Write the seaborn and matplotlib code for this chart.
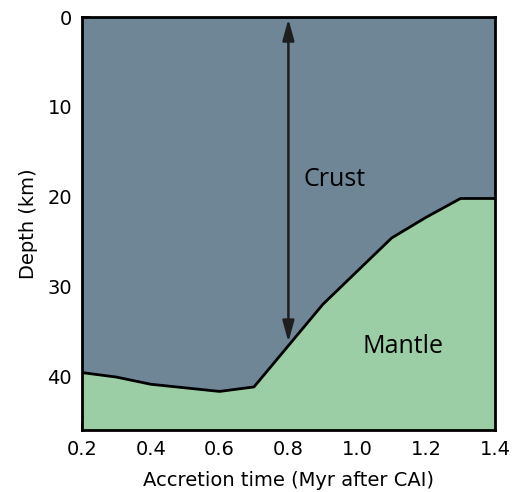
import numpy as np
import pandas as pd
import matplotlib
matplotlib.use("Agg")
import matplotlib.pyplot as plt
import seaborn as sns

# accretion time (Myr after CAI) and crust/mantle boundary depth (km)
accretion_time = [0.2, 0.3, 0.4, 0.5, 0.6, 0.7, 0.8, 0.9, 1.0, 1.1, 1.2, 1.3, 1.4]
boundary_depth = [39.6, 40.1, 40.9, 41.3, 41.7, 41.2, 36.6, 32.0, 28.3, 24.6, 22.3, 20.2, 20.2]

crust_color = "#6e8696"
mantle_color = "#9ccea5"

sns.set_style("ticks")
plt.rcParams["font.family"] = ["DejaVu Sans"]
plt.rcParams["text.color"] = "black"
plt.rcParams["axes.labelcolor"] = "black"
plt.rcParams["xtick.color"] = "black"
plt.rcParams["ytick.color"] = "black"

df = pd.DataFrame({"time": accretion_time, "depth": boundary_depth})

fig = plt.figure(figsize=(5.15, 4.92), dpi=100)
ax = fig.add_axes([0.159, 0.126, 0.802, 0.839])

y_bottom = 46
ax.fill_between(df["time"], 0, df["depth"], color=crust_color, lw=0)
ax.fill_between(df["time"], df["depth"], y_bottom, color=mantle_color, lw=0)
sns.lineplot(data=df, x="time", y="depth", color="black", lw=2, ax=ax)

# double arrow showing crust thickness
ax.annotate("", xy=(0.8, 0.2), xytext=(0.8, 36.2),
            arrowprops=dict(arrowstyle="<|-|>,head_length=0.8,head_width=0.22",
                            color="#1e1e1e", lw=1.8,
                            mutation_scale=16, shrinkA=0, shrinkB=0))

ax.text(0.935, 18.1, "Crust", fontsize=18, ha="center", va="center",
        family=["Open Sans", "DejaVu Sans"])
ax.text(1.133, 36.7, "Mantle", fontsize=18, ha="center", va="center",
        family=["Open Sans", "DejaVu Sans"])

ax.set_xlim(0.2, 1.4)
ax.set_ylim(y_bottom, 0)
ax.set_xticks([0.2, 0.4, 0.6, 0.8, 1.0, 1.2, 1.4])
ax.set_yticks([0, 10, 20, 30, 40])
ax.tick_params(direction="in", length=6, width=1.2, labelsize=14, pad=7)
for s in ax.spines.values():
    s.set_linewidth(2)
    s.set_color("black")
ax.set_xlabel("Accretion time (Myr after CAI)", fontsize=14, labelpad=9)
ax.set_ylabel("Depth (km)", fontsize=14, labelpad=7)

fig.savefig("out.png", dpi=100)
